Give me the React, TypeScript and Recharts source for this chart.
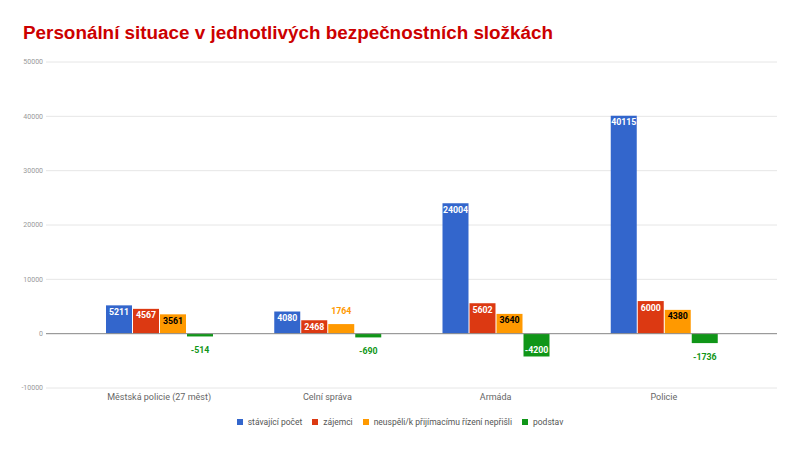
import React from 'react';
import { BarChart, Bar, XAxis, YAxis, CartesianGrid, ReferenceLine, LabelList } from 'recharts';

const categories = ['Městská policie (27 měst)', 'Celní správa', 'Armáda', 'Policie'];
const stavajici = [5211, 4080, 24004, 40115];
const zajemci = [4567, 2468, 5602, 6000];
const neuspeli = [3561, 1764, 3640, 4380];
const podstav = [-514, -690, -4200, -1736];
const yTicks = [-10000, 0, 10000, 20000, 30000, 40000, 50000];

const series = [
    { key: 'stavajici', name: 'stávající počet', color: '#3366cc', inside: '#ffffff' },
    { key: 'zajemci', name: 'zájemci', color: '#dc3912', inside: '#ffffff' },
    { key: 'neuspeli', name: 'neuspěli/k přijímacímu řízení nepřišli', color: '#ff9900', inside: '#000000' },
    { key: 'podstav', name: 'podstav', color: '#109618', inside: '#ffffff' },
];

const data = categories.map((name, i) => ({
    name,
    stavajici: stavajici[i],
    zajemci: zajemci[i],
    neuspeli: neuspeli[i],
    podstav: podstav[i],
}));

const font = 'Roboto, "Noto Sans", sans-serif';

// Google-style labels: inside the bar end when it fits, outside otherwise
const makeLabel = (color: string, insideFill: string) => (props: any) => {
    const { x, y, width, height, value } = props;
    const top = Math.min(y, y + height);
    const h = Math.abs(height);
    const cx = x + width / 2;
    const inside = h >= 12;
    let ty;
    if (value >= 0) ty = inside ? top + 6.5 : top - 13;
    else ty = inside ? top + h - 6 : top + h + 14;
    return (
        <text x={cx} y={ty} textAnchor="middle" dominantBaseline="central"
            fontSize={8.8} fontWeight="bold" fontFamily={font}
            fill={inside ? insideFill : color}>
            {value}
        </text>
    );
};

export default function App() {
    return (
        <div style={{ position: 'absolute', left: 0, top: 0, width: 800, height: 449, background: '#fff' }}>
            <svg width={800} height={50} style={{ position: 'absolute', left: 0, top: 0 }}>
                <text x={23} y={39} fontSize={18} fontWeight="bold" fill="#cc0000"
                    fontFamily='"Liberation Sans", Arial, sans-serif'
                    textLength={530} lengthAdjust="spacingAndGlyphs">
                    Personální situace v jednotlivých bezpečnostních složkách
                </text>
            </svg>
            <BarChart width={800} height={449} data={data}
                margin={{ top: 62, right: 23, bottom: 31, left: 0 }}
                barCategoryGap={30} barGap={1}>
                <CartesianGrid vertical={false} stroke="#e6e6e6" />
                <XAxis dataKey="name" axisLine={false} tickLine={false} height={30}
                    padding={{ left: 29, right: 29 }} tickSize={0} tickMargin={6}
                    tick={{ fontSize: 9, fill: '#666', fontFamily: font }} interval={0} />
                <YAxis width={46} domain={[-10000, 50000]} ticks={yTicks} interval={0}
                    axisLine={false} tickLine={false} tickSize={0} tickMargin={3}
                    tick={{ fontSize: 7, fill: '#999', fontFamily: font }} />
                <ReferenceLine y={0} stroke="#8c8c8c" />
                {series.map((s) => (
                    <Bar key={s.key} dataKey={s.key} name={s.name} fill={s.color}
                        barSize={26} isAnimationActive={false}>
                        <LabelList dataKey={s.key} content={makeLabel(s.color, s.inside)} />
                    </Bar>
                ))}
            </BarChart>
            <div style={{
                position: 'absolute', left: 0, top: 417, width: 800, display: 'flex',
                justifyContent: 'center', alignItems: 'center', fontFamily: font,
                fontSize: 8.5, color: '#555',
            }}>
                {series.map((s) => (
                    <div key={s.key} style={{ display: 'flex', alignItems: 'center', margin: '0 5px' }}>
                        <span style={{ width: 6, height: 6, background: s.color, marginRight: 5, display: 'inline-block' }} />
                        <span>{s.name}</span>
                    </div>
                ))}
            </div>
        </div>
    );
}
